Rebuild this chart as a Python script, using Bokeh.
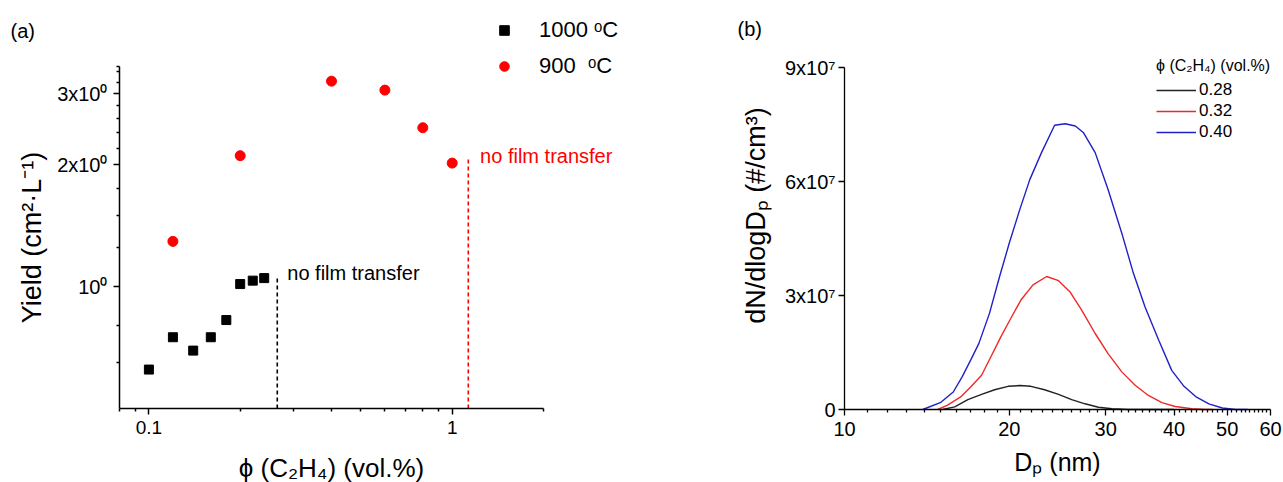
import math
from bokeh.plotting import figure
from bokeh.models import FixedTicker, Label, Legend, LegendItem, BasicTickFormatter
from bokeh.layouts import row
from bokeh.embed import file_html
from bokeh.resources import INLINE

FONT = "Liberation Sans"

# ---------------- panel (a) data ----------------
phi_1000 = [0.10, 0.12, 0.14, 0.16, 0.18, 0.20, 0.22, 0.24]
yield_1000 = [0.624, 0.75, 0.695, 0.75, 0.827, 1.015, 1.035, 1.05]
phi_900 = [0.12, 0.20, 0.40, 0.60, 0.80, 1.00]
yield_900 = [1.294, 2.107, 3.22, 3.06, 2.47, 2.02]
limit_phi = [0.265, 1.13]          # "no film transfer" limits
limit_top = [1.064, 2.07]
limit_colors = ["black", "red"]
xa_span = (0.08, 2.0)
ya_span = (0.5, 3.5)
xa_ticks = [0.1, 1]
xa_tick_labels = ["0.1", "1"]
xa_minor = [0.08, 0.09, 0.2, 0.3, 0.4, 0.5, 0.6, 0.7, 0.8, 0.9, 2.0]
ya_ticks = [1, 2, 3]
ya_tick_labels = ["10⁰", "2x10⁰", "3x10⁰"]
ya_minor = [0.65, 0.8, 1.25, 1.5, 1.75, 2.2, 2.4, 2.6, 2.8, 3.2, 3.4, 3.5]

# ---------------- panel (b) data ----------------
dp_028 = [15.1, 15.9, 16.8, 17.8, 18.8, 19.9, 20.9, 21.9, 23.2, 24.6, 26.0, 27.5, 29.1, 30.8, 33.0, 40.0]
n_028 = [0, 0.07e7, 0.26e7, 0.40e7, 0.52e7, 0.61e7, 0.63e7, 0.61e7, 0.52e7, 0.40e7, 0.26e7, 0.15e7, 0.06e7,
         0.02e7, 0, 0]
dp_032 = [14.8, 15.4, 16.3, 17.0, 17.8, 18.5, 19.3, 20.2, 21.0, 22.1, 23.4, 24.6, 25.8, 27.1, 28.7, 30.3,
          32.1, 34.0, 35.9, 38.0, 40.2, 43.1, 45.6, 47.0]
n_032 = [0, 0.11e7, 0.33e7, 0.59e7, 0.90e7, 1.38e7, 1.91e7, 2.44e7, 2.88e7, 3.28e7, 3.50e7, 3.39e7, 3.10e7,
         2.62e7, 2.00e7, 1.47e7, 0.99e7, 0.63e7, 0.37e7, 0.18e7, 0.08e7, 0.02e7, 0, 0]
dp_040 = [13.9, 15.0, 15.8, 16.4, 17.0, 17.6, 18.4, 19.2, 20.0, 20.9, 21.8, 22.9, 24.2, 25.3, 26.4, 27.3,
          28.7, 30.3, 32.1, 33.7, 35.4, 37.5, 39.6, 41.7, 43.8, 46.3, 49.0, 51.8, 54.5]
n_040 = [0, 0.19e7, 0.46e7, 0.86e7, 1.30e7, 1.74e7, 2.53e7, 3.50e7, 4.38e7, 5.26e7, 6.05e7, 6.76e7, 7.48e7,
         7.52e7, 7.46e7, 7.29e7, 6.76e7, 5.79e7, 4.64e7, 3.59e7, 2.70e7, 1.82e7, 1.03e7, 0.61e7, 0.34e7,
         0.15e7, 0.04e7, 0, 0]
series_labels = ["0.28", "0.32", "0.40"]
series_colors = ["#222222", "#f02828", "#2020c8"]
xb_span = (10, 60)
yb_span = (0, 9e7)
xb_ticks = [10, 20, 30, 40, 50, 60]
xb_tick_labels = ["10", "20", "30", "40", "50", "60"]
xb_minor = [v for v in range(11, 60) if v % 10 != 0]
yb_ticks = [0, 3e7, 6e7, 9e7]
yb_tick_labels = ["0", "3x10⁷", "6x10⁷", "9x10⁷"]

# ---------------- layout geometry (pixels) ----------------
A_W, A_H = 640, 482
A_BOX = (119, 543, 66, 408)        # axis left, right, top, bottom inside panel (a)
B_W, B_H = 643, 482
B_BOX = (204, 630, 67, 409)        # same for panel (b)


def extend(lo, hi, p_lo, p_hi, total, log, flip=False):
    """Range covering the whole canvas so that [lo, hi] falls on pixels [p_lo, p_hi]."""
    f = math.log10 if log else (lambda v: v)
    g = (lambda v: 10 ** v) if log else (lambda v: v)
    a, b = f(lo), f(hi)
    per_px = (b - a) / (p_hi - p_lo)
    if flip:   # pixel axis pointing down (y)
        return g(a - (total - p_hi) * per_px), g(b + p_lo * per_px)
    return g(a - p_lo * per_px), g(b + (total - p_hi) * per_px)


def style_axis(ax, tick_size, lw):
    ax.axis_label = None
    ax.major_label_text_font = FONT
    ax.major_label_text_font_size = tick_size
    ax.major_label_text_color = "black"
    ax.axis_line_width = lw
    ax.axis_line_color = "black"
    ax.major_tick_line_color = "black"
    ax.minor_tick_line_color = "black"
    ax.major_tick_line_width = lw
    ax.minor_tick_line_width = lw
    ax.major_tick_in = 0
    ax.major_tick_out = 6
    ax.minor_tick_in = 0
    ax.minor_tick_out = 3


def base_figure(w, h, xr, yr, xlog, ylog):
    p = figure(frame_width=w, frame_height=h, x_range=xr, y_range=yr,
               x_axis_type="log" if xlog else "linear", y_axis_type="log" if ylog else "linear",
               output_backend="svg", toolbar_location=None,
               min_border=0, min_border_left=0, min_border_right=0, min_border_top=0, min_border_bottom=0)
    p.title.visible = False
    p.grid.visible = False
    p.outline_line_color = None
    p.background_fill_color = "white"
    p.border_fill_color = "white"
    return p


def text(p, x, y, s, size, color="black", align="left", angle=0.0, units="screen"):
    p.add_layout(Label(x=x, y=y, x_units=units, y_units=units, text=s, text_font=FONT,
                       text_font_size=size, text_color=color, text_align=align,
                       text_baseline="middle", angle=angle))


def plain_legend(leg):
    leg.padding = 0
    leg.margin = 0
    leg.border_line_color = None
    leg.background_fill_alpha = 0
    leg.label_text_font = FONT
    leg.label_text_color = "black"


# ================= panel (a) =================
xa_rng = extend(*xa_span, A_BOX[0], A_BOX[1], A_W, True)
ya_rng = extend(*ya_span, A_BOX[2], A_BOX[3], A_H, True, flip=True)
pa = base_figure(A_W, A_H, xa_rng, ya_rng, True, True)

xa = pa.xaxis[0]
style_axis(xa, "19px", 1.5)
xa.fixed_location = ya_span[0]
xa.bounds = xa_span
xa.ticker = FixedTicker(ticks=xa_ticks, minor_ticks=xa_minor)
xa.formatter = BasicTickFormatter()
xa.major_label_overrides = dict(zip(xa_ticks, xa_tick_labels))
xa.major_label_standoff = 6

ya = pa.yaxis[0]
style_axis(ya, "20px", 1.5)
ya.fixed_location = xa_span[0]
ya.bounds = ya_span
ya.ticker = FixedTicker(ticks=ya_ticks, minor_ticks=ya_minor)
ya.formatter = BasicTickFormatter()
ya.major_label_overrides = dict(zip(ya_ticks, ya_tick_labels))
ya.major_label_standoff = 6

pa.segment(x0=limit_phi, y0=[ya_span[0]] * len(limit_phi), x1=limit_phi, y1=limit_top,
           line_color=limit_colors, line_dash="4 3", line_width=1.6)
sq = pa.scatter(phi_1000, yield_1000, marker="square", size=9, color="black")
ci = pa.scatter(phi_900, yield_900, marker="circle", size=10, color="red")

text(pa, 0.286, 1.079, "no film transfer", "20px", units="data")
text(pa, 1.236, 2.106, "no film transfer", "20px", color="red", units="data")
text(pa, 10, A_H - 30, "(a)", "20px")
text(pa, 31, A_H - 237, "Yield (cm²·L⁻¹)", "27px", align="center", angle=math.pi / 2)
text(pa, 331, A_H - 467, "ϕ (C₂H₄) (vol.%)", "26px", align="center")

leg_a = Legend(items=[LegendItem(label="1000 ᵒC", renderers=[sq]),
                      LegendItem(label="900  ᵒC", renderers=[ci])],
               location=(492, A_H - 79), orientation="vertical")
plain_legend(leg_a)
leg_a.glyph_width = 24
leg_a.glyph_height = 24
leg_a.label_height = 24
leg_a.spacing = 10
leg_a.label_standoff = 23
leg_a.label_text_font_size = "22px"
pa.add_layout(leg_a)

# ================= panel (b) =================
xb_rng = extend(*xb_span, B_BOX[0], B_BOX[1], B_W, True)
yb_rng = extend(*yb_span, B_BOX[2], B_BOX[3], B_H, False, flip=True)
pb = base_figure(B_W, B_H, xb_rng, yb_rng, True, False)

xb = pb.xaxis[0]
style_axis(xb, "20px", 1.3)
xb.fixed_location = yb_span[0]
xb.bounds = xb_span
xb.ticker = FixedTicker(ticks=xb_ticks, minor_ticks=xb_minor)
xb.formatter = BasicTickFormatter()
xb.major_label_overrides = dict(zip(xb_ticks, xb_tick_labels))
xb.major_label_standoff = 6

yb = pb.yaxis[0]
style_axis(yb, "20px", 1.3)
yb.fixed_location = xb_span[0]
yb.bounds = yb_span
yb.ticker = FixedTicker(ticks=yb_ticks, minor_ticks=[])
yb.major_label_overrides = dict(zip(yb_ticks, yb_tick_labels))
yb.major_label_standoff = 3

lines = []
for dp, n, c in zip([dp_028, dp_032, dp_040], [n_028, n_032, n_040], series_colors):
    lines.append(pb.line(dp, n, line_color=c, line_width=1.4))

text(pb, 97, B_H - 28, "(b)", "20px")
text(pb, 115, B_H - 215, "dN/dlogDₚ (#/cm³)", "27px", align="center", angle=math.pi / 2)
text(pb, 417, B_H - 461, "Dₚ (nm)", "25px", align="center")

leg_b = Legend(items=[LegendItem(label=l, renderers=[r]) for l, r in zip(series_labels, lines)],
               location=(516, B_H - 142), orientation="vertical")
plain_legend(leg_b)
leg_b.title = "ϕ (C₂H₄) (vol.%)"
leg_b.title_text_font = FONT
leg_b.title_text_font_size = "16px"
leg_b.title_text_font_style = "normal"
leg_b.title_text_color = "black"
leg_b.title_standoff = 5
leg_b.glyph_width = 40
leg_b.glyph_height = 16
leg_b.label_height = 16
leg_b.spacing = 1
leg_b.label_standoff = 3
leg_b.label_text_font_size = "17px"
pb.add_layout(leg_b)

layout = row(pa, pb)
open("out.html", "w").write(file_html(layout, INLINE))
